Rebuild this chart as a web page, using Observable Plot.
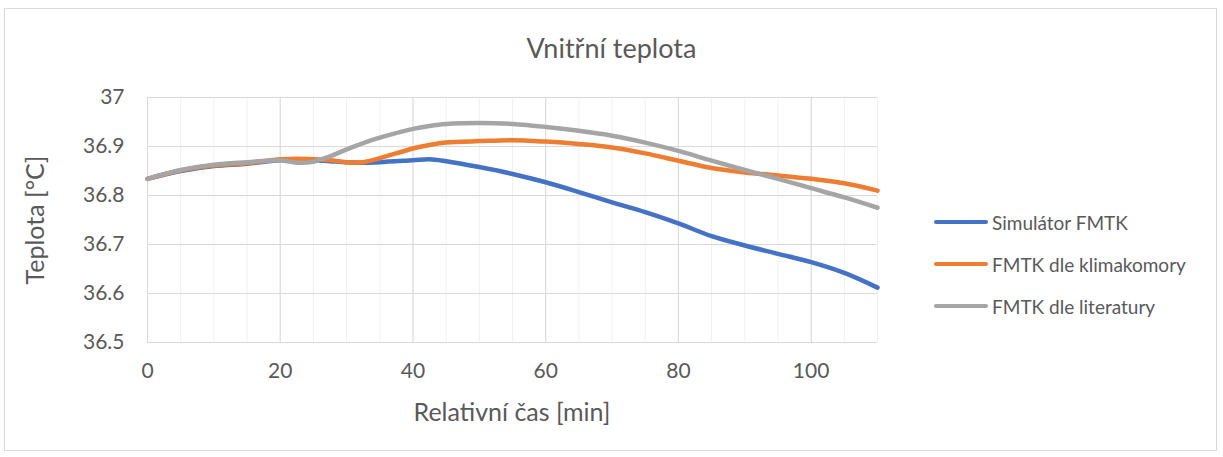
<!DOCTYPE html>
<html>
<head>
<meta charset="utf-8">
<script src="https://cdn.jsdelivr.net/npm/d3@7"></script>
<script src="https://cdn.jsdelivr.net/npm/@observablehq/plot@0.6"></script>
<style>
  html, body { margin: 0; padding: 0; background: #fff; }
  #chart { position: relative; width: 1223px; height: 457px; font-family: Lato, "Open Sans", sans-serif; color: #595959; }
  #frame { position: absolute; left: 4px; top: 8px; width: 1213px; height: 443px; border: 1px solid #d9d9d9; box-sizing: border-box; }
  #title { position: absolute; left: 0; width: 1223px; top: 47px; transform: translateY(-50%); text-align: center; font-size: 27px; font-weight: 400; line-height: 1; }
  #ylabel { position: absolute; left: 34px; top: 220px; transform: translate(-50%, -50%) rotate(-90deg); font-size: 25px; white-space: nowrap; line-height: 1; }
  #xlabel { position: absolute; left: 512px; top: 411px; transform: translate(-50%, -50%); font-size: 25px; white-space: nowrap; line-height: 1; }
  #legend { position: absolute; left: 934px; top: 201px; font-size: 19px; }
  .item { display: flex; align-items: center; height: 42px; }
  .swatch { width: 54px; height: 4px; border-radius: 2px; margin-right: 4px; }
  #plot { position: absolute; left: 0; top: 0; }
</style>
</head>
<body>
<div id="chart">
  <div id="frame"></div>
  <div id="plot"></div>
  <div id="title">Vnitřní teplota</div>
  <div id="ylabel">Teplota [°C]</div>
  <div id="xlabel">Relativní čas [min]</div>
  <div id="legend"></div>
</div>
<script>
const time = [0, 5, 10, 15, 20, 22.5, 25, 27.5, 30, 32.5, 35, 40, 42.5, 45, 50, 55, 60, 65, 70, 75, 80, 85, 90, 95, 100, 105, 110];
const simulator = [36.834, 36.850, 36.860, 36.865, 36.872, 36.873, 36.872, 36.870, 36.868, 36.867, 36.868, 36.872, 36.874, 36.870, 36.858, 36.844, 36.827, 36.807, 36.786, 36.766, 36.743, 36.717, 36.698, 36.681, 36.664, 36.642, 36.612];
const klimakomora = [36.834, 36.851, 36.861, 36.866, 36.874, 36.875, 36.874, 36.872, 36.868, 36.868, 36.876, 36.896, 36.903, 36.908, 36.911, 36.913, 36.910, 36.905, 36.898, 36.886, 36.871, 36.856, 36.847, 36.841, 36.834, 36.825, 36.810];
const literatura = [36.834, 36.852, 36.863, 36.868, 36.872, 36.867, 36.869, 36.880, 36.894, 36.907, 36.918, 36.936, 36.942, 36.946, 36.948, 36.946, 36.940, 36.932, 36.922, 36.908, 36.891, 36.871, 36.852, 36.834, 36.815, 36.796, 36.775];
const seriesNames = ["Simulátor FMTK", "FMTK dle klimakomory", "FMTK dle literatury"];
const seriesColors = ["#4472C4", "#ED7D31", "#A5A5A5"];
const xTicks = [0, 20, 40, 60, 80, 100];
const yTicks = [36.5, 36.6, 36.7, 36.8, 36.9, 37];

const allSeries = [simulator, klimakomora, literatura];
const rows = [];
allSeries.forEach((vals, i) => {
  vals.forEach((v, j) => rows.push({t: time[j], v, s: seriesNames[i]}));
});

const minorX = d3.range(0, 111, 5);

const chart = Plot.plot({
  width: 1223,
  height: 457,
  marginLeft: 147,
  marginRight: 346,
  marginTop: 97,
  marginBottom: 115,
  style: {fontFamily: "Lato, 'Open Sans', sans-serif", fontSize: "21px", color: "#595959", background: "transparent"},
  x: {domain: [0, 110]},
  y: {domain: [36.5, 37]},
  color: {domain: seriesNames, range: seriesColors},
  marks: [
    Plot.ruleX(minorX, {stroke: "#f0f0f0", strokeWidth: 1}),
    Plot.ruleX(xTicks, {stroke: "#d9d9d9", strokeWidth: 1}),
    Plot.ruleY(yTicks, {stroke: "#d9d9d9", strokeWidth: 1}),
    Plot.axisX({ticks: xTicks, tickSize: 0, tickPadding: 21, label: null, tickFormat: d => String(d)}),
    Plot.axisY({ticks: yTicks, tickSize: 0, tickPadding: 23, label: null, tickFormat: d => String(+d.toFixed(1))}),
    Plot.line(rows, {x: "t", y: "v", z: "s", stroke: "s", strokeWidth: 4.5, curve: "catmull-rom", strokeLinecap: "round"})
  ]
});
document.getElementById("plot").appendChild(chart);

const legend = document.getElementById("legend");
seriesNames.forEach((name, i) => {
  const item = document.createElement("div");
  item.className = "item";
  const sw = document.createElement("div");
  sw.className = "swatch";
  sw.style.background = seriesColors[i];
  const label = document.createElement("span");
  label.textContent = name;
  item.appendChild(sw);
  item.appendChild(label);
  legend.appendChild(item);
});
</script>
</body>
</html>
